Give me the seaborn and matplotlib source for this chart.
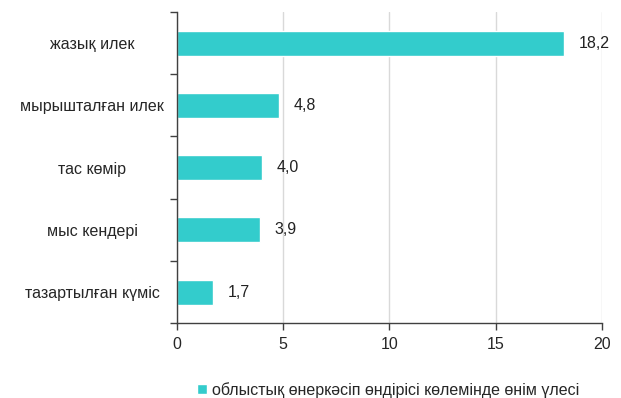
import pandas as pd
import matplotlib.pyplot as plt
import seaborn as sns

# ---------------------------------
# Data
# ---------------------------------

products = [
    "жазық илек",
    "мырышталған илек",
    "тас көмір",
    "мыс кендері",
    "тазартылған күміс",
]
shares = [18.2, 4.8, 4.0, 3.9, 1.7]
series_name = "облыстық өнеркәсіп өндірісі көлемінде өнім үлесі"

df = pd.DataFrame({"product": products, "share": shares})

bar_color = "#33CCCC"
fs = 11.5

sns.set_style("white")
plt.rcParams["font.family"] = ["Liberation Sans", "DejaVu Sans"]

# ---------------------------------
# Horizontal bar chart
# ---------------------------------

fig, ax = plt.subplots(figsize=(6.21, 3.98), dpi=100)

sns.barplot(
    data=df,
    x="share",
    y="product",
    color=bar_color,
    width=0.4,
    saturation=1,
    ax=ax,
    label=series_name,
)

for i, v in enumerate(shares):
    ax.text(
        v + 0.7, i, f"{v:.1f}".replace(".", ","),
        va="center", ha="left", fontsize=fs, color="#222222"
    )

ax.set_xlim(0, 20)
ax.set_xticks([0, 5, 10, 15, 20])
ax.set_ylim(len(products) - 0.5, -0.5)
ax.set_yticks([i - 0.5 for i in range(len(products) + 1)], minor=True)
ax.set_yticks(range(len(products)))
ax.tick_params(axis="y", which="major", length=0, pad=61, labelsize=fs)
for lbl in ax.get_yticklabels():
    lbl.set_horizontalalignment("center")
ax.tick_params(axis="y", which="minor", length=5, width=1, color="#404040", direction="out", left=True)
ax.tick_params(axis="x", length=5, width=1, color="#404040", direction="out", bottom=True, labelsize=fs, pad=5)

ax.xaxis.grid(True, color="#D9D9D9", linewidth=1)
ax.set_axisbelow(True)

for s in ["top", "right"]:
    ax.spines[s].set_visible(False)
for s in ["left", "bottom"]:
    ax.spines[s].set_color("#404040")
    ax.spines[s].set_linewidth(1)

ax.set_xlabel("")
ax.set_ylabel("")

ax.legend(
    loc="lower center",
    bbox_to_anchor=(0.625, -0.035),
    bbox_transform=fig.transFigure,
    frameon=False,
    fontsize=fs,
    handlelength=0.6,
    handleheight=0.6,
    handletextpad=0.3,
)

fig.subplots_adjust(left=0.285, right=0.969, top=0.97, bottom=0.188)

fig.savefig("out.png", dpi=100)
